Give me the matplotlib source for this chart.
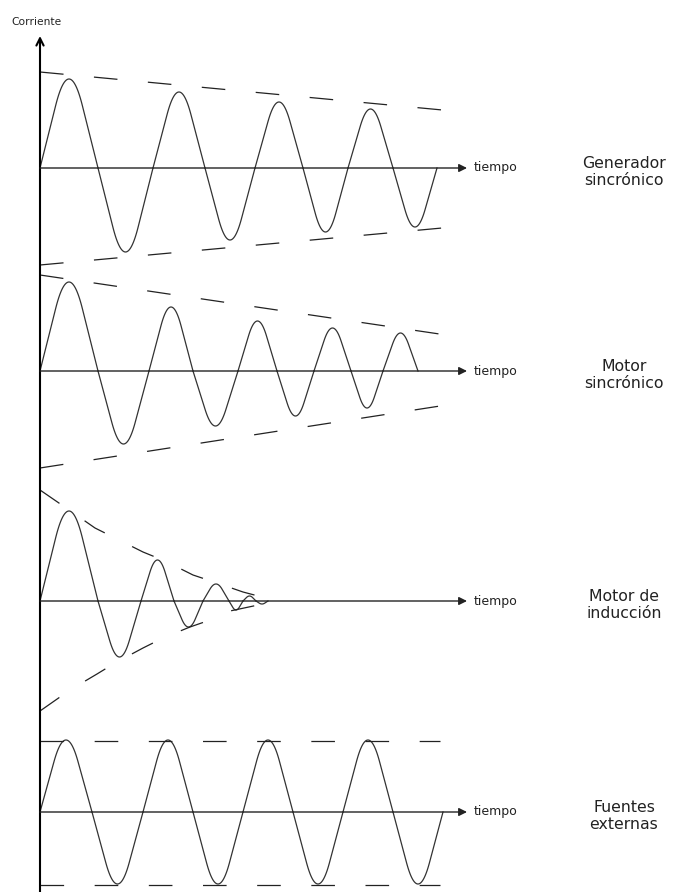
import numpy as np
import matplotlib.pyplot as plt

# textos
y_label = "Corriente"
x_label = "tiempo"
labels = ["Generador\nsincrónico", "Motor\nsincrónico", "Motor de\ninducción", "Fuentes\nexternas"]

# cruces por cero (tiempo) y amplitud de cada semiciclo
gen_cross = [0, 58, 113, 165, 215, 263, 308, 353, 397]
gen_amp = [89, 84, 76, 72, 66, 64, 59, 59]
mot_cross = [0, 58, 109, 153, 198, 237, 274, 311, 343, 378]
mot_amp = [89, 73, 64, 55, 50, 45, 43, 37, 38]
ind_cross = [0, 58, 101, 134, 163, 189, 203, 216, 228]
ind_amp = [90, 56, 41, 26, 17, 9, 5, 3]
ext_cross = [0, 52, 103, 153, 203, 253, 303, 353, 403]
ext_amp = [72, 72, 72, 72, 72, 72, 72, 72]

# envolventes: tiempo, amplitud superior, amplitud inferior
gen_env_t = [0, 413]
gen_env_top = [96, 57]
gen_env_bot = [97, 59]
mot_env_t = [0, 413]
mot_env_top = [96, 35]
mot_env_bot = [97, 33]
ind_top_t = [0, 32, 55, 75, 103, 125, 153, 177, 203, 237]
ind_top = [111, 89, 73, 63, 49, 40, 26, 18, 9, 0]
ind_bot_t = [0, 30, 57, 75, 103, 123, 150, 173, 190, 237]
ind_bot = [110, 89, 73, 62, 47, 37, 26, 18, 10, 0]
ext_env_t = [0, 400]
ext_env_top = [71, 71]
ext_env_bot = [73, 73]

panels = [
    (gen_cross, gen_amp, gen_env_t, gen_env_top, gen_env_t, gen_env_bot),
    (mot_cross, mot_amp, mot_env_t, mot_env_top, mot_env_t, mot_env_bot),
    (ind_cross, ind_amp, ind_top_t, ind_top, ind_bot_t, ind_bot),
    (ext_cross, ext_amp, ext_env_t, ext_env_top, ext_env_t, ext_env_bot),
]

x0 = 40
bases = [168, 371, 601, 812]
axis_end = 467
ink = "#222222"
dash = (0, (17, 22))

# forma del semiciclo: lados rectos y cresta redondeada
m = 1.3
a = 2 / m - 1
c = m / (2 * (1 - a))


def half_wave(u):
    tri = 1 - np.abs(2 * u - 1)
    return np.where(tri < a, m * tri, 1 - c * (1 - tri) ** 2)


plt.rcParams['lines.scale_dashes'] = False
fig = plt.figure(figsize=(6.77, 8.92), dpi=100)
ax = fig.add_axes([0, 0, 1, 1])
ax.set_xlim(0, 677)
ax.set_ylim(892, 0)
ax.axis("off")

# eje vertical
ax.annotate("", xy=(x0, 36), xytext=(x0, 892),
            arrowprops=dict(arrowstyle="->", lw=1.5, color="black", mutation_scale=13,
                            shrinkA=0, shrinkB=0))
ax.text(37, 22, y_label, ha="center", va="center", fontsize=7.7, color=ink)

for (cross, amp, tt, top, tb, bot), base, lab in zip(panels, bases, labels):
    # eje del tiempo
    ax.annotate("", xy=(axis_end, base), xytext=(x0, base),
                arrowprops=dict(arrowstyle="-|>", lw=1.0, color=ink, mutation_scale=12,
                                shrinkA=0, shrinkB=0))
    ax.text(474, base, x_label, ha="left", va="center", fontsize=9, color=ink)
    ax.text(624, base + 4, lab, ha="center", va="center", fontsize=11.3,
            color=ink, linespacing=1.2)

    # onda
    for i in range(len(amp)):
        c0, c1 = cross[i], cross[i + 1]
        u = np.linspace(0, 1, 80)
        sign = 1 if i % 2 == 0 else -1
        xs = x0 + c0 + u * (c1 - c0)
        ys = base - sign * amp[i] * half_wave(u)
        ax.plot(xs, ys, color="#333333", lw=0.9)

    # envolventes
    ax.plot(x0 + np.array(tt), base - np.array(top), color=ink, lw=0.9, linestyle=dash)
    ax.plot(x0 + np.array(tb), base + np.array(bot), color=ink, lw=0.9, linestyle=dash)

fig.savefig("out.png", dpi=100)
